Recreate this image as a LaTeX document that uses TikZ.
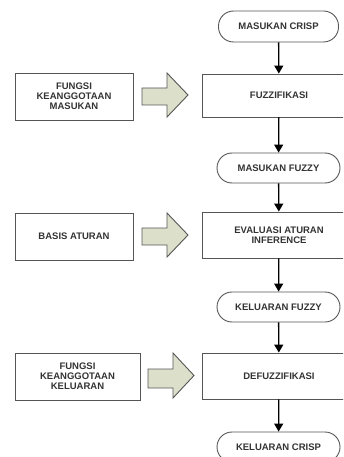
\documentclass[tikz,border=0pt]{standalone}
\usepackage{fontspec}
\setmainfont{Liberation Sans}
\usetikzlibrary{arrows.meta}
\definecolor{txt}{HTML}{333333}
\definecolor{edge}{HTML}{555555}
\definecolor{fat}{HTML}{DCE0CB}
\tikzset{
  base/.style={draw=edge, line width=0.9pt, text=txt, font=\fontsize{9.5}{10}\selectfont\bfseries, align=center, inner sep=0pt},
  term/.style={base, rounded corners=15pt, minimum width=#1, minimum height=30pt},
  proc/.style={base, rectangle, minimum width=154pt, minimum height=46pt},
  lbox/.style={base, rectangle, minimum width=#1, minimum height=47pt},
  flow/.style={line width=1.3pt, -{Triangle[width=9pt,length=8pt]}},
  fatarrow/.style={draw=edge, fill=fat, line width=0.9pt, line join=miter}
}
\begin{document}
\begin{tikzpicture}[x=1pt,y=-1pt]
\useasboundingbox (0,0) rectangle (343,457);
\clip (0,0) rectangle (343,457);
% main column
\node[term=120pt, minimum height=31pt] (crisp) at (278.5,26.5) {MASUKAN CRISP};
\node[proc, minimum height=43pt] (fuzz) at (279,95.5) {FUZZIFIKASI};
\node[term=123pt] (mfuzzy) at (278.5,168) {MASUKAN FUZZY};
\node[proc] (eval) at (279,235) {EVALUASI ATURAN\\INFERENCE};
\node[term=123pt] (kfuzzy) at (278.5,307) {KELUARAN FUZZY};
\node[proc] (defuzz) at (279,376) {DEFUZZIFIKASI};
\node[term=123pt] (kcrisp) at (278.5,447) {KELUARAN CRISP};
% left boxes
\node[lbox=118pt] (f1) at (74,96.5) {FUNGSI\\KEANGGOTAAN\\MASUKAN};
\node[lbox=118pt] (f2) at (74,236.5) {BASIS ATURAN};
\node[lbox=125pt] (f3) at (77.5,376.5) {FUNGSI\\KEANGGOTAAN\\KELUARAN};
% vertical connectors
\draw[flow] (crisp) -- (fuzz);
\draw[flow] (fuzz) -- (mfuzzy);
\draw[flow] (mfuzzy) -- (eval);
\draw[flow] (eval) -- (kfuzzy);
\draw[flow] (kfuzzy) -- (defuzz);
\draw[flow] (defuzz) -- (kcrisp);
% block arrows
\draw[fatarrow] (142,88)--(167,88)--(167,73)--(188,95)--(167,117)--(167,105)--(142,105)--cycle;
\draw[fatarrow] (142,228)--(167,228)--(167,213)--(188,235)--(167,257)--(167,245)--(142,245)--cycle;
\draw[fatarrow] (148,369)--(173,369)--(173,353)--(194,375.5)--(173,398)--(173,388)--(148,388)--cycle;
\end{tikzpicture}
\end{document}
